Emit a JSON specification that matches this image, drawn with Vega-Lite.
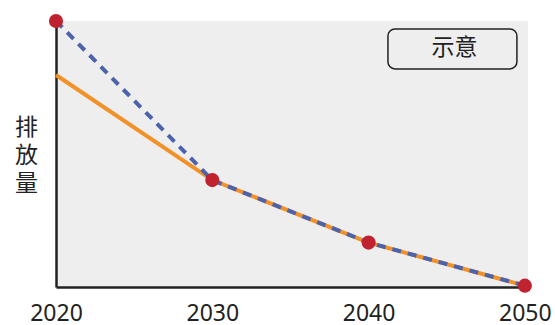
{
  "$schema": "https://vega.github.io/schema/vega-lite/v6.json",
  "autosize": "none",
  "width": 472,
  "height": 266,
  "padding": {"left": 56, "top": 21, "right": 27, "bottom": 38},
  "background": "white",
  "config": {
    "view": {"fill": "#eeeeee", "stroke": null},
    "axis": {"grid": false, "domainColor": "#222222", "domainWidth": 2.5, "ticks": false}
  },
  "datasets": {
    "series": [
      {"year": 2020, "value": 100, "series": "路径"},
      {"year": 2030, "value": 40.2, "series": "路径"},
      {"year": 2040, "value": 16.7, "series": "路径"},
      {"year": 2050, "value": 0.5, "series": "路径"},
      {"year": 2020, "value": 79.7, "series": "实际"},
      {"year": 2030, "value": 40.2, "series": "实际"},
      {"year": 2040, "value": 16.7, "series": "实际"},
      {"year": 2050, "value": 0.5, "series": "实际"}
    ],
    "note": [
      {"x": 2041.24, "x2": 2049.49, "y": 97.0, "y2": 82.0, "xc": 2045.3, "yc": 89.7, "label": "示意"}
    ]
  },
  "layer": [
    {
      "data": {"name": "note"},
      "mark": {"type": "rect", "fill": null, "fillOpacity": 0, "stroke": "#222222", "strokeWidth": 1.5, "cornerRadius": 7},
      "encoding": {
        "x": {"field": "x", "type": "quantitative", "scale": {"domain": [2020, 2050.2], "nice": false, "zero": false}},
        "x2": {"field": "x2"},
        "y": {"field": "y", "type": "quantitative", "scale": {"domain": [0, 100], "nice": false}},
        "y2": {"field": "y2"}
      }
    },
    {
      "data": {"name": "note"},
      "mark": {"type": "text", "font": "Noto Sans CJK SC", "fontSize": 23, "color": "#222222", "letterSpacing": 6, "align": "center", "baseline": "middle", "dx": 3},
      "encoding": {
        "x": {"field": "xc", "type": "quantitative"},
        "y": {"field": "yc", "type": "quantitative"},
        "text": {"field": "label"}
      }
    },
    {
      "data": {"name": "series"},
      "transform": [{"filter": "datum.series === '实际'"}],
      "mark": {"type": "line", "color": "#f29128", "strokeWidth": 4, "clip": false},
      "encoding": {
        "x": {"field": "year", "type": "quantitative",
          "axis": {"values": [2020, 2030, 2040, 2050], "format": "d", "title": null, "labelFont": "Noto Sans", "labelFontSize": 23, "labelColor": "#222222", "labelPadding": 15, "labelFlush": false}},
        "y": {"field": "value", "type": "quantitative",
          "axis": {"labels": false, "title": ["排", "放", "量"], "titleAngle": 0, "titleFont": "Noto Sans CJK SC", "titleFontWeight": "normal", "titleFontSize": 23, "titleLineHeight": 28, "titleColor": "#222222", "titleAlign": "center", "titleBaseline": "middle", "titleX": -30, "titleY": 106}}
      }
    },
    {
      "data": {"name": "series"},
      "transform": [{"filter": "datum.series === '路径'"}],
      "mark": {"type": "line", "color": "#4c62ab", "strokeWidth": 4, "strokeDash": [9, 7], "clip": false},
      "encoding": {
        "x": {"field": "year", "type": "quantitative"},
        "y": {"field": "value", "type": "quantitative"}
      }
    },
    {
      "data": {"name": "series"},
      "transform": [{"filter": "datum.series === '路径'"}],
      "mark": {"type": "circle", "color": "#c1222f", "opacity": 1, "size": 200, "clip": false},
      "encoding": {
        "x": {"field": "year", "type": "quantitative"},
        "y": {"field": "value", "type": "quantitative"}
      }
    }
  ]
}
